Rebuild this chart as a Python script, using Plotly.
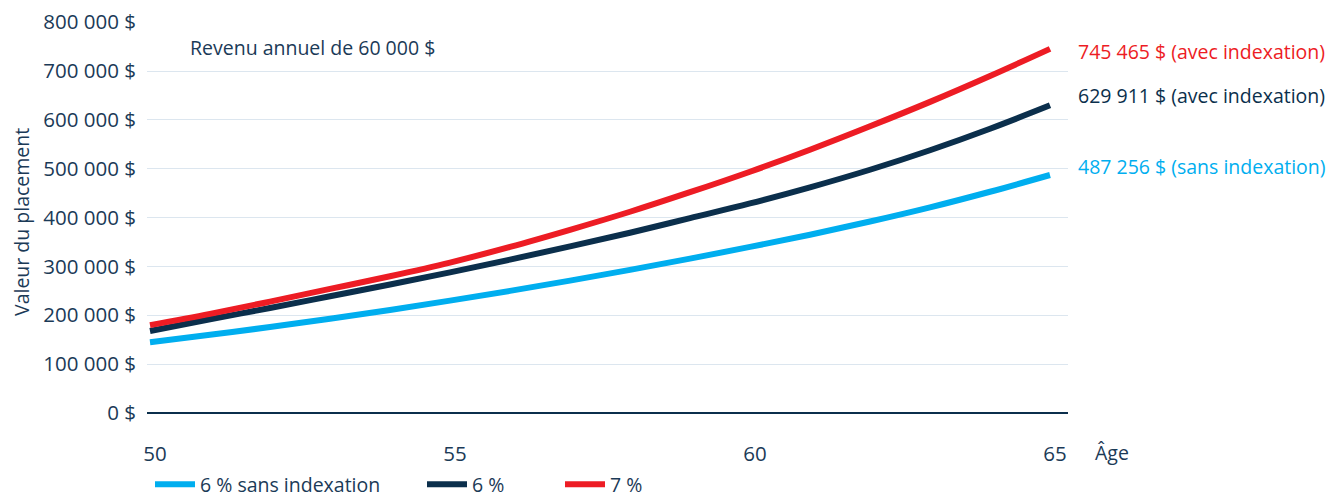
import plotly.graph_objects as go

ages = list(range(50, 66))
six_sans = [145, 160, 176, 193, 211, 230, 250, 271, 293, 316, 340, 365, 392, 421, 453, 487.256]
six_avec = [168, 192, 215, 239, 263, 288, 314, 341, 369, 399, 429, 462, 498, 538, 582, 629.911]
seven_avec = [180, 203, 228, 254, 280, 308, 340, 375, 412, 452, 494, 539, 587, 637, 690, 745.465]
six_sans = [v * 1000 for v in six_sans]
six_avec = [v * 1000 for v in six_avec]
seven_avec = [v * 1000 for v in seven_avec]

names = ["6 % sans indexation", "6 %", "7 %"]
end_notes = ["(sans indexation)", "(avec indexation)", "(avec indexation)"]
colors = ["#00AEEF", "#0B2F4C", "#ED1C24"]
y_ticks = [0, 100000, 200000, 300000, 400000, 500000, 600000, 700000, 800000]
x_ticks = [50, 55, 60, 65]

FONT = "Open Sans"
FS = 19.5
TICK_FS = 20.5
TXT = "#1B3A57"

# page body has an 8px margin: design in screen px, convert to figure px
OFF = 8
W, H = 1334 - OFF, 504 - OFF
L = 147 - OFF
T = 22 - OFF
B = H - (413 - OFF)
R = W - (1068 - OFF)
PW = W - L - R
PH = H - T - B


def px_x(sx):
    return (sx - OFF - L) / PW


def px_y(sy):
    return (H - B - (sy - OFF)) / PH


def fmt(v):
    return f"{int(round(v)):,}".replace(",", " ") + " $"


fig = go.Figure()
series = [six_sans, six_avec, seven_avec]
legend_ids = ["legend", "legend2", "legend3"]
for name, ys, col, lg in zip(names, series, colors, legend_ids):
    fig.add_trace(go.Scatter(x=ages, y=ys, mode="lines", name=name, legend=lg,
                             line=dict(color=col, width=6, shape="spline"),
                             hoverinfo="skip"))

shifts = [9, 10, -3]
for ys, col, note, sh in zip(series, colors, end_notes, shifts):
    fig.add_annotation(x=65, y=ys[-1], xref="x", yref="y", text=f"{fmt(ys[-1])} {note}",
                       showarrow=False, xanchor="left", yanchor="middle", xshift=26, yshift=sh,
                       font=dict(family=FONT, size=FS, color=col))

fig.add_annotation(x=px_x(188), y=px_y(47), xref="paper", yref="paper",
                   text="Revenu annuel de 60 000 $",
                   showarrow=False, xanchor="left", yanchor="middle",
                   font=dict(family=FONT, size=FS, color=TXT))

fig.add_annotation(x=px_x(1093), y=px_y(452), xref="paper", yref="paper", text="Âge",
                   showarrow=False, xanchor="left", yanchor="middle",
                   font=dict(family=FONT, size=FS, color=TXT))

fig.add_annotation(x=px_x(22), y=px_y(222), xref="paper", yref="paper",
                   text="Valeur du placement", textangle=-90,
                   showarrow=False, xanchor="center", yanchor="middle",
                   font=dict(family=FONT, size=FS, color=TXT))

leg_common = dict(orientation="h", xanchor="left", y=0, yref="container", yanchor="bottom",
                  font=dict(family=FONT, size=FS, color=TXT), itemwidth=40,
                  bgcolor="rgba(0,0,0,0)")
leg_x = [150, 422, 560]

fig.update_layout(
    width=W, height=H,
    margin=dict(l=L, r=R, t=T, b=B),
    paper_bgcolor="white", plot_bgcolor="white",
    font=dict(family=FONT, size=FS, color=TXT),
    showlegend=True,
    legend=dict(x=px_x(leg_x[0]), **leg_common),
    legend2=dict(x=px_x(leg_x[1]), **leg_common),
    legend3=dict(x=px_x(leg_x[2]), **leg_common),
    xaxis=dict(range=[49.95, 65.3], tickvals=x_ticks, ticktext=[str(t) for t in x_ticks],
               showgrid=False, zeroline=False, showline=False, ticks="", automargin=False,
               ticklabelstandoff=26, ticklabelshift=5, ticklabeloverflow="allow",
               tickfont=dict(family=FONT, size=TICK_FS, color=TXT)),
    yaxis=dict(range=[0, 800500], tickvals=y_ticks, ticktext=[fmt(t) for t in y_ticks],
               showgrid=True, gridcolor="#DCE6EF", gridwidth=1, automargin=False,
               zeroline=True, zerolinecolor="#0B2F4C", zerolinewidth=2,
               showline=False, ticks="", ticklabelstandoff=10, ticklabeloverflow="allow",
               tickfont=dict(family=FONT, size=TICK_FS, color=TXT)),
)

fig.write_html("out.html")
